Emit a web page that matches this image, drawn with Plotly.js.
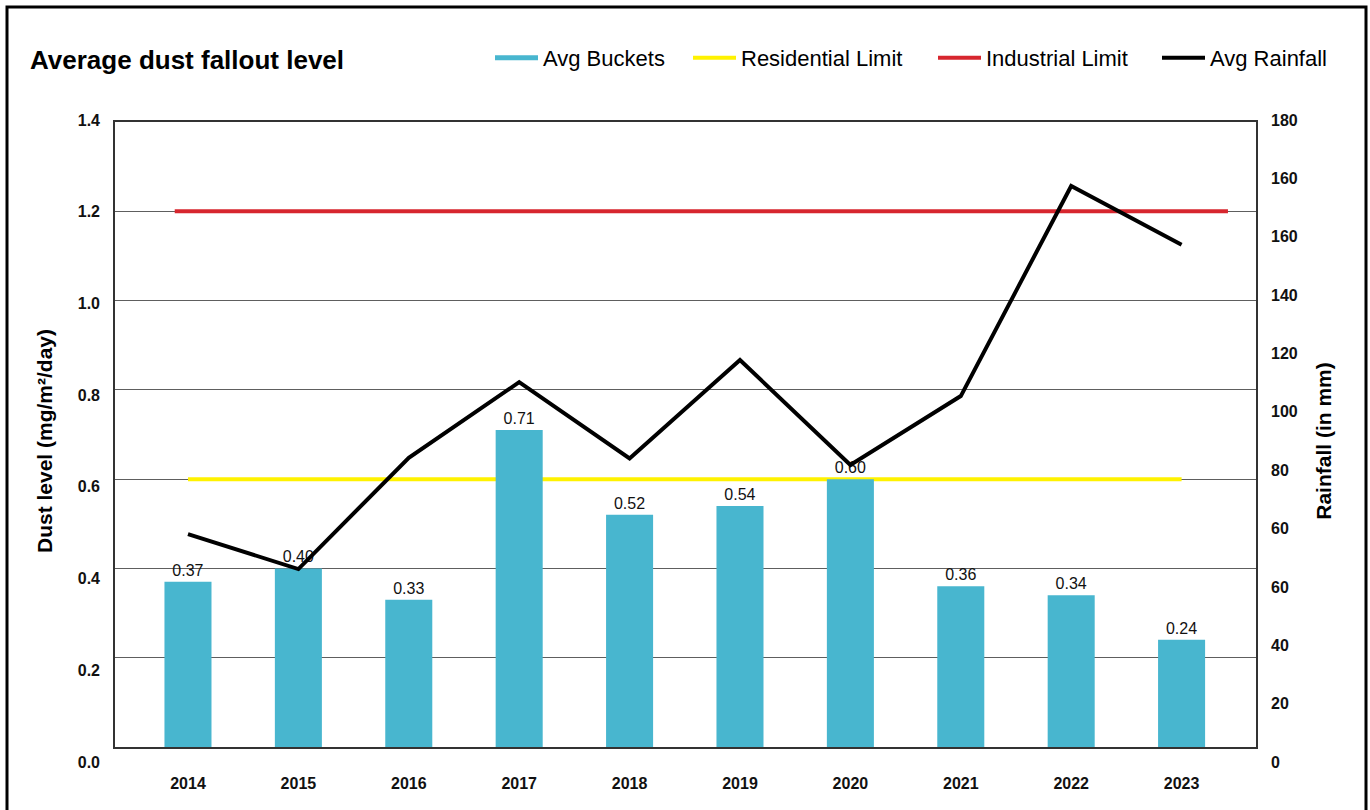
<!DOCTYPE html>
<html>
<head>
<meta charset="utf-8">
<script src="https://cdn.plot.ly/plotly-3.0.1.min.js"></script>
<style>
  html, body { margin: 0; padding: 0; background: #ffffff; }
  #chart { width: 1370px; height: 810px; }
</style>
</head>
<body>
<div id="chart"></div>
<script>
// ---- data ----
const years = [2014, 2015, 2016, 2017, 2018, 2019, 2020, 2021, 2022, 2023];
const avgBuckets = [0.37, 0.40, 0.33, 0.71, 0.52, 0.54, 0.60, 0.36, 0.34, 0.24];
const avgRainfall = [63.9, 54.1, 85.3, 106.5, 85.1, 112.7, 83.3, 102.6, 161.5, 145.0];
const residentialLimit = 0.6;
const industrialLimit = 1.2;
const residentialSpan = [2014, 2023];
const industrialSpan = [2013.88, 2023.42];
const rainfallTickLabels = ['0', '20', '40', '60', '60', '80', '100', '120', '140', '160', '160', '180'];
const dustMax = 1.4;
const rainMax = 180;

// ---- styling ----
const FONT = 'Liberation Sans, Arial, Helvetica, sans-serif';
const W = 1370, H = 810;
const M = { l: 115, r: 114, t: 120, b: 48 };
const plotW = W - M.l - M.r;
const plotH = H - M.t - M.b;
const pxX = px => (px - M.l) / plotW;
const pxY = py => (H - M.b - py) / plotH;

const rainTickVals = rainfallTickLabels.map((_, i) => i * rainMax / (rainfallTickLabels.length - 1));

const traces = [
  {
    type: 'scatter', mode: 'lines', name: 'Avg Buckets', legend: 'legend',
    x: [null], y: [null], xaxis: 'x', yaxis: 'y',
    line: { color: '#48B6CF', width: 5 }, hoverinfo: 'skip'
  },
  {
    type: 'scatter', mode: 'lines', name: 'Residential Limit', legend: 'legend2',
    x: residentialSpan, y: residentialSpan.map(() => residentialLimit),
    xaxis: 'x', yaxis: 'y',
    line: { color: '#FFF200', width: 4 }
  },
  {
    type: 'scatter', mode: 'lines', name: 'Industrial Limit', legend: 'legend3',
    x: industrialSpan, y: industrialSpan.map(() => industrialLimit),
    xaxis: 'x', yaxis: 'y',
    line: { color: '#D7262E', width: 4 }
  },
  {
    type: 'bar', name: 'Avg Buckets bars', showlegend: false,
    x: years, y: avgBuckets, xaxis: 'x', yaxis: 'y4',
    width: 0.426,
    marker: { color: '#48B6CF', line: { width: 0 } },
    text: avgBuckets.map(v => v.toFixed(2)),
    textposition: 'outside', cliponaxis: false,
    textfont: { family: FONT, size: 16, color: '#111' }
  },
  {
    type: 'scatter', mode: 'lines', name: 'Avg Rainfall', legend: 'legend4',
    x: years, y: avgRainfall, xaxis: 'x', yaxis: 'y2',
    line: { color: '#000000', width: 4 }
  },
  {
    type: 'scatter', mode: 'lines', showlegend: false, hoverinfo: 'skip',
    x: [null], y: [null], xaxis: 'x', yaxis: 'y3'
  }
];

const tickFont = { family: FONT, size: 16, color: '#111', weight: 'bold' };

function legendAt(sampleStartPx) {
  return {
    orientation: 'h',
    x: pxX(sampleStartPx - 5), xanchor: 'left',
    y: pxY(58), yanchor: 'middle',
    itemwidth: 43,
    font: { family: FONT, size: 22, color: '#000' },
    bgcolor: 'rgba(0,0,0,0)'
  };
}

const layout = {
  width: W, height: H,
  margin: M,
  paper_bgcolor: '#ffffff',
  plot_bgcolor: 'rgba(0,0,0,0)',
  font: { family: FONT, color: '#000' },
  showlegend: true,
  title: {
    text: 'Average dust fallout level',
    xref: 'container', yref: 'container',
    x: 30 / W, xanchor: 'left',
    y: 1 - 60 / H, yanchor: 'middle',
    font: { family: FONT, size: 26, color: '#000', weight: 'bold' }
  },
  legend: legendAt(495),
  legend2: legendAt(693),
  legend3: legendAt(938),
  legend4: legendAt(1162),
  xaxis: {
    type: 'linear',
    range: [2013.339, 2023.674],
    tickvals: years,
    ticktext: years.map(String),
    showgrid: false, zeroline: false,
    showline: true, linecolor: '#333', linewidth: 2, mirror: true,
    ticks: '', ticklabelstandoff: 21,
    tickfont: tickFont,
    anchor: 'y', fixedrange: true
  },
  yaxis: {
    domain: [pxY(747), pxY(122)],
    range: [0, dustMax], dtick: 0.2,
    showticklabels: false,
    showgrid: true, gridcolor: '#5e5e5e', gridwidth: 1,
    zeroline: false,
    showline: true, linecolor: '#333', linewidth: 2, mirror: true,
    ticks: '', anchor: 'x', fixedrange: true
  },
  yaxis4: {
    overlaying: 'y', range: [0, dustMax], visible: false, fixedrange: true
  },
  yaxis3: {
    domain: [0, 1], anchor: 'x', side: 'left',
    range: [0, dustMax], dtick: 0.2, tickformat: '.1f',
    showgrid: false, zeroline: false, showline: false,
    ticks: '', ticklabelstandoff: 14,
    tickfont: tickFont,
    title: {
      text: 'Dust level (mg/m²/day)', standoff: 19,
      font: { family: FONT, size: 21, color: '#000', weight: 'bold' }
    },
    fixedrange: true
  },
  yaxis2: {
    domain: [0, 1], anchor: 'x', side: 'right',
    range: [0, rainMax],
    tickmode: 'array', tickvals: rainTickVals, ticktext: rainfallTickLabels,
    showgrid: false, zeroline: false, showline: false,
    ticks: '', ticklabelstandoff: 14,
    tickfont: tickFont,
    title: {
      text: 'Rainfall (in mm)', standoff: 19,
      font: { family: FONT, size: 21, color: '#000', weight: 'bold' }
    },
    fixedrange: true
  },
  shapes: [
    {
      type: 'rect', xref: 'paper', yref: 'paper',
      x0: pxX(7), x1: pxX(1366), y0: pxY(840), y1: pxY(7),
      line: { color: '#000', width: 3 }, fillcolor: 'rgba(0,0,0,0)', layer: 'above'
    }
  ]
};

Plotly.newPlot('chart', traces, layout, { displayModeBar: false, staticPlot: true });
</script>
</body>
</html>
